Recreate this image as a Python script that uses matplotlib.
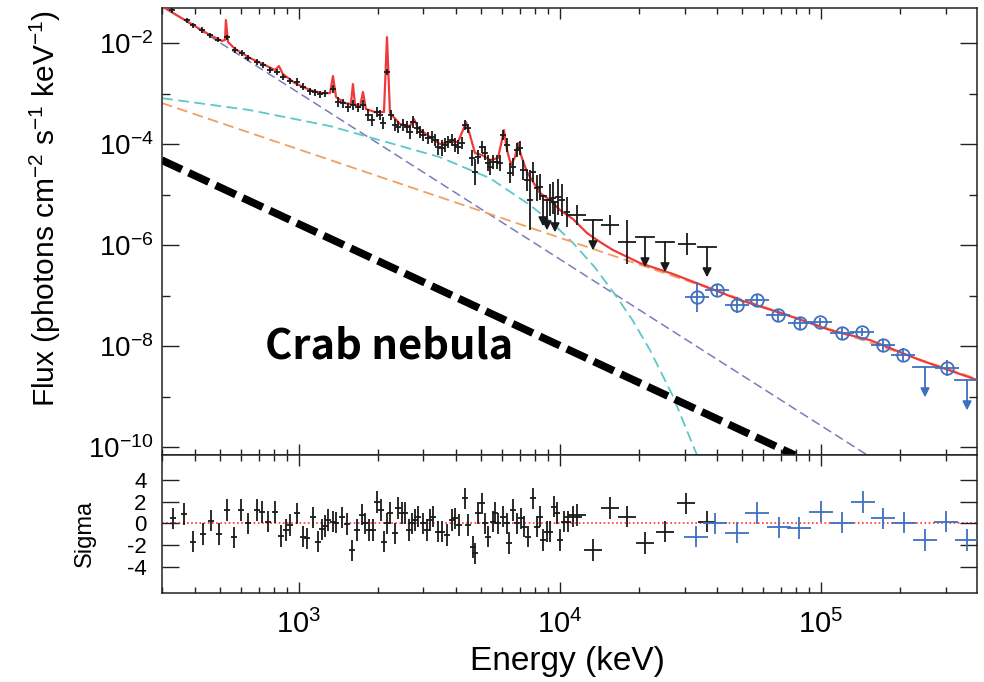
import numpy as np
import matplotlib
matplotlib.use("Agg")
import matplotlib.pyplot as plt
from matplotlib.ticker import FixedLocator, NullFormatter, FixedFormatter

plt.rcParams['font.family'] = ['Liberation Sans', 'DejaVu Sans']
plt.rcParams['mathtext.fontset'] = 'custom'
plt.rcParams['mathtext.rm'] = 'Liberation Sans'
plt.rcParams['mathtext.it'] = 'Liberation Sans:italic'
plt.rcParams['mathtext.bf'] = 'Liberation Sans:bold'

# ---- spectrum data (keV, photons cm-2 s-1 keV-1) ----
energy = [326, 372, 393, 425, 456, 489, 530, 569, 605, 638, 690, 728, 774, 823,
          868, 924, 982, 1036, 1102, 1152, 1204, 1258, 1350, 1410, 1474, 1541,
          1610, 1683, 1759, 1838, 1904, 1990, 2044, 2098, 2174, 2252, 2333, 2395,
          2503, 2593, 2662, 2734, 2832, 2908, 2986, 3120, 3232, 3320, 3409, 3532,
          3626, 3722, 3856, 3959, 4066, 4212, 4325, 4441, 4601, 4724, 4851, 5025,
          5159, 5297, 5392, 5537, 5736, 5890, 6047, 6267, 6435, 6607, 6843, 7027,
          7215, 7474, 7674, 7880, 8166, 8385, 9157, 9402, 9824, 10178, 10637]
flux = [4.50e-2, 2.85e-2, 2.27e-2, 1.81e-2, 1.44e-2, 1.15e-2, 1.31e-2, 7.27e-3,
        6.34e-3, 5.05e-3, 4.21e-3, 3.67e-3, 2.92e-3, 2.67e-3, 2.12e-3, 1.77e-3,
        1.69e-3, 1.35e-3, 1.12e-3, 1.07e-3, 9.77e-4, 1.02e-3, 1.23e-3, 6.79e-4,
        6.48e-4, 5.40e-4, 5.92e-4, 5.40e-4, 5.92e-4, 3.75e-4, 2.99e-4, 4.30e-4,
        3.75e-4, 2.60e-4, 2.67e-3, 3.75e-4, 2.38e-4, 2.17e-4, 2.38e-4, 2.17e-4,
        1.73e-4, 2.73e-4, 2.07e-4, 1.73e-4, 1.51e-4, 1.31e-4, 1.38e-4, 1.20e-4,
        8.72e-5, 8.33e-5, 9.55e-5, 1.10e-4, 1.20e-4, 9.55e-5, 8.72e-5, 1.05e-4,
        2.38e-4, 2.07e-4, 5.28e-5, 2.79e-5, 5.53e-5, 8.72e-5, 6.63e-5, 4.21e-5,
        3.50e-5, 4.40e-5, 4.40e-5, 4.21e-5, 1.51e-4, 9.55e-5, 2.67e-5, 3.50e-5,
        7.61e-5, 8.33e-5, 3.06e-5, 1.94e-5, 7.78e-6, 2.79e-5, 1.34e-5, 1.41e-5,
        7.78e-6, 8.52e-6, 8.92e-6, 7.78e-6, 4.50e-6]
flux_err_dex = [0.05, 0.05, 0.05, 0.05, 0.05, 0.05, 0.05, 0.06, 0.06, 0.06, 0.06,
                0.06, 0.06, 0.06, 0.06, 0.06, 0.07, 0.07, 0.07, 0.07, 0.07, 0.07,
                0.08, 0.09, 0.09, 0.09, 0.09, 0.09, 0.10, 0.12, 0.12, 0.10, 0.10,
                0.12, 0.06, 0.10, 0.11, 0.11, 0.11, 0.11, 0.14, 0.11, 0.12, 0.12,
                0.12, 0.12, 0.12, 0.12, 0.16, 0.16, 0.14, 0.12, 0.12, 0.14, 0.14,
                0.12, 0.09, 0.09, 0.16, 0.26, 0.14, 0.12, 0.14, 0.16, 0.16, 0.14,
                0.14, 0.16, 0.10, 0.13, 0.20, 0.18, 0.13, 0.13, 0.20, 0.22, 0.60,
                0.20, 0.26, 0.26, 0.32, 0.32, 0.36, 0.32, 0.30]

hi_energy = [11617, 15544, 18058, 30668]
hi_flux = [3.93e-6, 2.49e-6, 1.15e-6, 1.05e-6]
hi_err_dex = [0.20, 0.20, 0.43, 0.21]

ul_energy = [8610, 8918, 9570, 13378, 21170, 25255, 36586]
ul_flux = [9.34e-6, 7.78e-6, 7.10e-6, 3.13e-6, 1.44e-6, 1.15e-6, 9.13e-7]

blue_energy = [33490, 39953, 47678, 56867, 68439, 83094, 99128, 120350, 143620,
               172820, 206220, 303940]
blue_flux = [9.34e-8, 1.28e-7, 6.48e-8, 8.15e-8, 4.11e-8, 2.85e-8, 2.99e-8,
             1.81e-8, 1.89e-8, 1.05e-8, 6.63e-9, 3.67e-9]
blue_err_dex = [0.30, 0.12, 0.15, 0.10, 0.12, 0.12, 0.08, 0.12, 0.08, 0.12, 0.14, 0.16]
blue_ul_energy = [250290, 362590]
blue_ul_flux = [3.84e-9, 2.12e-9]

# ---- model components ----
model_energy = [293, 382, 456, 507, 521, 525, 535, 569, 649, 741, 809, 838, 868,
                965, 1102, 1225, 1315, 1350, 1387, 1501, 1582, 1610, 1639, 1713,
                1759, 1806, 1956, 2117, 2174, 2232, 2438, 2662, 2758, 2857, 3176,
                3470, 3788, 4066, 4250, 4363, 4521, 4724, 5025, 5392, 5787, 5995,
                6102, 6267, 6492, 6724, 6904, 7089, 7474, 8385, 9157, 10000, 11215,
                12690, 14232, 15966, 20253, 27101, 36586, 48955, 74075, 108270,
                154080, 239460, 406670]
model_flux = [5.65e-2, 2.49e-2, 1.44e-2, 1.10e-2, 1.15e-2, 2.85e-2, 1.05e-2,
              7.61e-3, 5.05e-3, 3.67e-3, 2.92e-3, 3.50e-3, 2.43e-3, 1.61e-3,
              1.17e-3, 1.02e-3, 1.02e-3, 2.22e-3, 8.52e-4, 6.48e-4, 6.19e-4,
              1.54e-3, 6.19e-4, 5.40e-4, 1.07e-3, 4.93e-4, 4.30e-4, 4.30e-4,
              1.31e-2, 4.11e-4, 2.49e-4, 2.27e-4, 3.13e-4, 2.07e-4, 1.38e-4,
              1.00e-4, 1.10e-4, 1.10e-4, 1.89e-4, 2.73e-4, 1.51e-4, 6.63e-5,
              6.05e-5, 4.82e-5, 5.28e-5, 1.20e-4, 1.89e-4, 7.61e-5, 3.84e-5,
              5.53e-5, 1.05e-4, 6.05e-5, 2.79e-5, 1.07e-5, 7.78e-6, 4.93e-6,
              3.27e-6, 1.73e-6, 1.15e-6, 7.96e-7, 4.40e-7, 2.67e-7, 1.47e-7,
              8.15e-8, 4.11e-8, 2.07e-8, 1.31e-8, 5.28e-9, 2.03e-9]

pl_energy = [300, 150000]
pl_flux = [5.4e-2, 7.0e-11]
cutoff_energy = [299, 649, 1315, 3467, 5395, 7675, 9300, 11220, 13610, 16520,
                 19000, 22130, 27000, 33500]
cutoff_flux = [8.1e-4, 4.7e-4, 2.27e-4, 5.5e-5, 2.1e-5, 6.2e-6, 2.8e-6, 1.1e-6,
               3.6e-7, 9.3e-8, 3.2e-8, 8.3e-9, 1.05e-9, 6.9e-11]
hard_energy = [298, 400000]
hard_flux = [6.5e-4, 2.2e-9]
crab_energy = [298, 79400]
crab_flux = [4.8e-5, 6.9e-11]

# ---- residuals (sigma) ----
res_energy = [329, 363, 393, 429, 460, 494, 530, 564, 600, 638, 690, 722, 761, 809,
              853, 892, 924, 982, 1036, 1073, 1131, 1182, 1225, 1258, 1291, 1350,
              1387, 1461, 1527, 1596, 1668, 1743, 1790, 1854, 1921, 1990, 2062,
              2117, 2174, 2232, 2333, 2395, 2481, 2547, 2639, 2710, 2782, 2857,
              2986, 3093, 3176, 3262, 3409, 3532, 3690, 3856, 3959, 4102, 4325,
              4441, 4642, 4724, 4851, 5025, 5159, 5297, 5537, 5636, 5787, 6047,
              6267, 6379, 6607, 6843, 7089, 7279, 7540, 7880, 8166, 8385, 8610,
              8918, 9157, 9485, 9739, 10000, 10359, 10731, 11215, 11617, 13378,
              15544, 18058, 21170, 25255, 30401, 36586]
res_sigma = [0.46, 0.86, -1.7, -1.0, 0.25, -1.0, 1.23, -1.3, 1.23, 0.0, 1.23, 1.07,
             0.15, 1.07, -1.17, -0.62, -0.15, 0.92, -1.23, -1.39, 0.55, -1.7, -0.56,
             -0.25, 0.3, 0.15, 0.06, 0.55, -0.06, -2.5, -0.62, 0.8, 0.0, -0.62,
             -0.62, 2.0, 1.23, -1.7, 0.0, 0.93, -0.93, 1.39, 0.93, 0.93, -0.62, 0.0,
             0.3, 0.62, 0.0, -0.62, 0.3, 0.62, -0.77, -0.77, -1.08, 0.3, 0.46,
             -0.15, 2.3, -0.15, -2.17, -2.78, 0.93, 1.85, 0.0, -1.23, 0.15, 0.93,
             0.0, 0.62, 0.0, -1.85, 1.23, 0.0, 0.46, -0.31, -1.23, 2.3, -0.31, 0.62,
             -1.54, -0.77, -0.77, 1.54, 0.93, -1.54, 0.15, 0.15, 0.62, 0.77, -2.47,
             1.39, 0.62, -1.85, -0.77, 1.85, 0.15]
blue_res_energy = [33199, 39258, 47678, 56867, 69049, 82367, 100000, 120350, 144880,
                   172820, 207970, 250290, 301300, 362590]
blue_res_sigma = [-1.23, 0.0, -0.86, 0.93, -0.37, -0.46, 1.08, 0.06, 2.0, 0.46,
                  0.06, -1.54, 0.15, -1.52]

BLACK = '#1a1a1a'
BLUE = '#3f6fc0'
RED = '#f03a3a'


def dex_err(v, d):
    v = np.asarray(v, float)
    d = np.asarray(d, float)
    return [v * (1 - 10 ** -d), v * (10 ** d - 1)]


def draw_uplims(ax, e, f, half_dex, color):
    for ei, fi in zip(e, f):
        ax.plot([ei / 10 ** half_dex, ei * 10 ** half_dex], [fi, fi], color=color,
                lw=1.3, zorder=5)
        ax.annotate('', xy=(ei, fi * 10 ** -0.6), xytext=(ei, fi),
                    arrowprops=dict(arrowstyle='-|>', color=color, lw=1.3,
                                    mutation_scale=13, shrinkA=0, shrinkB=0),
                    zorder=5)


fig = plt.figure(figsize=(9.84, 6.82), dpi=100)
ax = fig.add_axes([0.1646, 0.3328, 0.8283, 0.6554])
rax = fig.add_axes([0.1646, 0.1305, 0.8283, 0.2023], sharex=ax)

# model lines
ax.plot(pl_energy, pl_flux, color='#7b7bbd', lw=1.1, ls=(0, (6, 3)), zorder=1)
ax.plot(cutoff_energy, cutoff_flux, color='#5cc8c8', lw=1.3, ls=(0, (6, 3)), zorder=1)
ax.plot(hard_energy, hard_flux, color='#f2a060', lw=1.3, ls=(0, (6, 3)), zorder=1)
ax.plot(crab_energy, crab_flux, color='black', lw=5.5, ls=(0, (2.9, 1.0)),
        solid_capstyle='butt', zorder=2)
ax.plot(model_energy, model_flux, color=RED, lw=1.6, zorder=3)

# data
e = np.asarray(energy, float)
ax.errorbar(e, flux, yerr=dex_err(flux, flux_err_dex), xerr=dex_err(e, 0.012),
            fmt='none', ecolor=BLACK, elinewidth=1.3, capsize=0, zorder=4)
ax.errorbar(hi_energy, hi_flux, yerr=dex_err(hi_flux, hi_err_dex),
            xerr=dex_err(hi_energy, 0.035), fmt='none', ecolor=BLACK,
            elinewidth=1.3, capsize=0, zorder=4)
draw_uplims(ax, ul_energy[:3], ul_flux[:3], 0.012, BLACK)
draw_uplims(ax, ul_energy[3:], ul_flux[3:], 0.035, BLACK)
ax.errorbar(blue_energy, blue_flux, yerr=dex_err(blue_flux, blue_err_dex),
            xerr=dex_err(blue_energy, 0.045), fmt='o', ms=9, mfc='none',
            mec=BLUE, mew=1.3, ecolor=BLUE, elinewidth=1.3, capsize=0, zorder=4)
draw_uplims(ax, blue_ul_energy, blue_ul_flux, 0.045, BLUE)

ax.text(740, 1.0e-8, 'Crab nebula', fontsize=30, fontweight='bold',
        family=['Noto Sans CJK JP', 'DejaVu Sans'], ha='left', va='center')

ax.set_xscale('log')
ax.set_yscale('log')
ax.set_xlim(298.7, 3.96e5)
ax.set_ylim(6.95e-11, 4.93e-2)
ax.yaxis.set_major_locator(FixedLocator([1e-10, 1e-8, 1e-6, 1e-4, 1e-2]))
ax.yaxis.set_major_formatter(FixedFormatter(
    [r'$\mathregular{10^{-10}}$', r'$\mathregular{10^{-8}}$', r'$\mathregular{10^{-6}}$',
     r'$\mathregular{10^{-4}}$', r'$\mathregular{10^{-2}}$']))
ax.yaxis.set_minor_locator(FixedLocator([1e-9, 1e-7, 1e-5, 1e-3]))
ax.yaxis.set_minor_formatter(NullFormatter())

# residual panel
re = np.asarray(res_energy, float)
rax.axhline(0, color='#ff3030', lw=1.2, ls=(0, (1, 1.5)), zorder=1)
rax.errorbar(re, res_sigma, yerr=1.0, xerr=dex_err(re, np.where(re > 11000, 0.035, 0.012)),
             fmt='none', ecolor=BLACK, elinewidth=1.3, capsize=0, zorder=3)
rax.errorbar(blue_res_energy, blue_res_sigma, yerr=1.0,
             xerr=dex_err(blue_res_energy, 0.045), fmt='none', ecolor=BLUE,
             elinewidth=1.3, capsize=0, zorder=3)
rax.set_ylim(-6.45, 6.32)
rax.yaxis.set_major_locator(FixedLocator([-4, -2, 0, 2, 4]))
rax.yaxis.set_major_formatter(FixedFormatter(['-4', '-2', '0', '2', '4']))
rax.yaxis.set_minor_locator(FixedLocator([]))

xticks = [1e3, 1e4, 1e5]
rax.xaxis.set_major_locator(FixedLocator(xticks))
rax.xaxis.set_major_formatter(FixedFormatter(
    [r'$\mathregular{10^{3}}$', r'$\mathregular{10^{4}}$', r'$\mathregular{10^{5}}$']))
minors = [m * 10 ** k for k in range(2, 6) for m in range(2, 10)]
rax.xaxis.set_minor_locator(FixedLocator(minors))
rax.xaxis.set_minor_formatter(NullFormatter())

for a in (ax, rax):
    a.tick_params(which='both', direction='in', top=True, right=True, color='#222222')
    a.tick_params(axis='x', which='major', length=8, width=1.0)
    a.tick_params(axis='x', which='minor', length=4.5, width=1.0)
    a.tick_params(axis='y', which='major', length=12, width=1.0)
    a.tick_params(axis='y', which='minor', length=6, width=1.0)
    for s in a.spines.values():
        s.set_linewidth(1.1)
        s.set_color('#222222')

ax.tick_params(axis='x', labelbottom=False)
ax.tick_params(axis='y', labelsize=20, pad=6)
rax.tick_params(axis='y', labelsize=16, pad=11)
rax.tick_params(axis='x', labelsize=21, pad=12)

fig.text(0.046, 0.695, 'Flux (photons cm$^{-2}$ s$^{-1}$ keV$^{-1}$)', rotation=90,
         ha='center', va='center', fontsize=21.5)
fig.text(0.086, 0.218, 'Sigma', rotation=90, ha='center', va='center', fontsize=17)
fig.text(0.577, 0.0176, 'Energy (keV)', ha='center', va='baseline', fontsize=24)

fig.savefig('out.png', dpi=100)
